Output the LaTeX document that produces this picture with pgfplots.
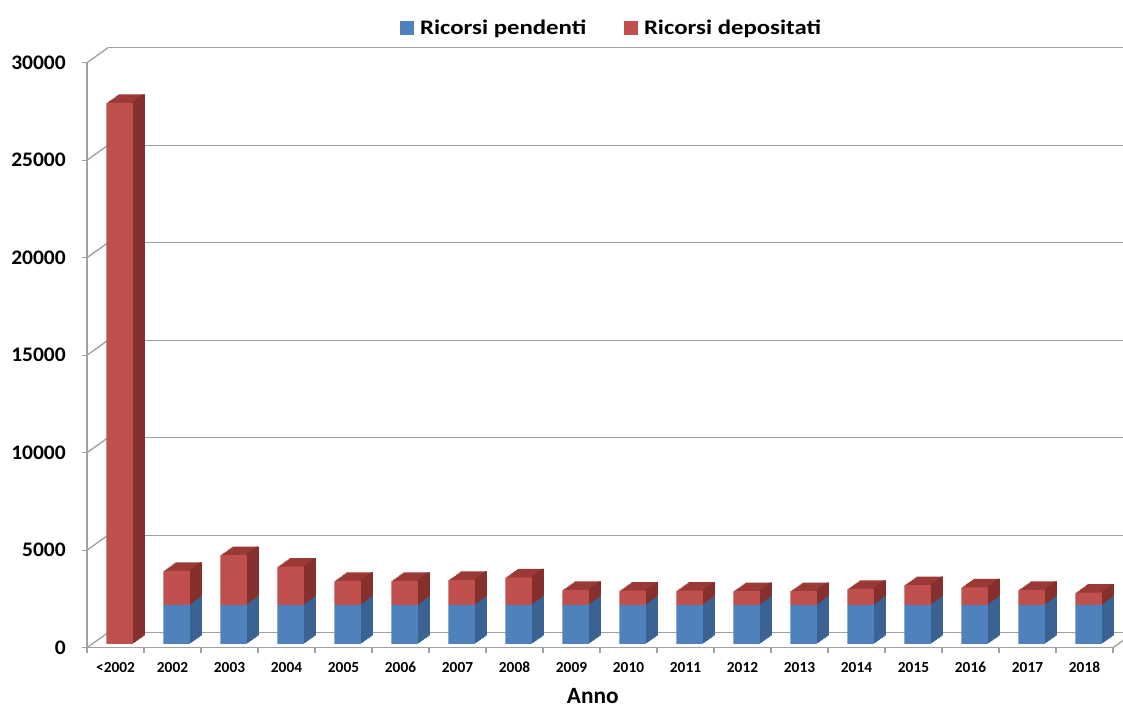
\documentclass[border=0pt]{standalone}
\usepackage{graphicx}
\usepackage{pgfplots}
\pgfplotsset{compat=1.18}
\usepackage{pgfplotstable}
\usepackage{fontspec}
\setmainfont{Carlito}

\definecolor{frontblue}{HTML}{4F81BD}
\definecolor{frontred}{HTML}{C0504D}
\definecolor{topblue}{HTML}{3E6899}
\definecolor{topred}{HTML}{9A3936}
\definecolor{sideblue}{HTML}{3A6293}
\definecolor{sidered}{HTML}{85302D}
\definecolor{gridgray}{HTML}{A0A0A0}

% pendenti = blue part, depositati = red part stacked on top
\pgfplotstableread{
x  pend  dep
0  0     27750
1  2000  1750
2  2000  2560
3  2000  1960
4  2000  1240
5  2000  1240
6  2000  1280
7  2000  1410
8  2000  770
9  2000  730
10 2000  730
11 2000  710
12 2000  710
13 2000  820
14 2000  1020
15 2000  900
16 2000  770
17 2000  630
}\data

\pgfplotsset{
  box/.style={scale only axis, width=769.5pt, height=438.75pt,
    xmin=-0.5, xmax=17.5, ymin=0, ymax=30000},
  layer/.style={box, hide axis, ybar stacked},
}

% one slice of the 3d bars: xshift, yshift, bar width, bar shift, blue, red
\newcommand{\barlayer}[6]{%
  \begin{axis}[layer, xshift=#1, yshift=#2]
    \addplot[fill=#5, draw=none, bar width=#3, bar shift=#4] table[x=x, y=pend] {\data};
    \addplot[fill=#6, draw=none, bar width=#3, bar shift=#4] table[x=x, y=dep] {\data};
  \end{axis}}

\begin{document}
\begin{tikzpicture}
\path[use as bounding box] (-65.25pt,-45.975pt) rectangle (777pt,485.775pt);

% back wall with gridlines
\begin{axis}[box, xshift=15.75pt, yshift=11.25pt,
  axis line style={draw=none}, xtick=\empty,
  ytick={0,5000,...,30000}, yticklabels={}, scaled y ticks=false,
  major tick length=0pt,
  ymajorgrids, grid style={draw=gridgray, line width=1pt}]
\end{axis}

% front frame, ticks and labels
\begin{axis}[box, clip=false,
  axis x line*=bottom, axis y line*=left,
  axis line style={-, draw=gridgray, line width=1pt},
  tick align=outside, major tick length=4pt,
  tick style={draw=gridgray, line width=1pt},
  ytick={0,5000,...,30000}, scaled y ticks=false,
  /pgf/number format/1000 sep={},
  /pgf/number format/assume math mode=true,
  yticklabel={\scalebox{1.04}[1]{\pgfmathprintnumber{\tick}}},
  yticklabel style={font=\fontsize{15.5}{18}\selectfont\bfseries,
    anchor=east, inner sep=0pt, xshift=-11.75pt},
  xtick={-0.5,0.5,...,17.5}, xticklabels={},
  extra x ticks={0,...,17},
  extra x tick labels={{<2002},2002,2003,2004,2005,2006,2007,2008,2009,2010,2011,2012,2013,2014,2015,2016,2017,2018},
  extra x tick style={major tick length=0pt,
    xticklabel style={font=\fontsize{11.5}{13}\selectfont\bfseries,
      anchor=base, inner sep=0pt, yshift=-18.75pt}},
  xlabel={Anno},
  x label style={font=\fontsize{17.5}{20}\selectfont\bfseries,
    at={(axis description cs:0.493,0)}, anchor=base, yshift=-41.5pt}]
% side wall lines at each gridline level
\pgfplotsinvokeforeach{0,5000,10000,15000,20000,25000,30000}{
  \draw[gridgray, line width=1pt] (axis cs:-0.5,#1) -- ++(15.75pt,11.25pt);
}
\draw[gridgray, line width=1pt] (axis cs:17.5,0) -- ++(15.75pt,11.25pt);
\end{axis}

% top faces (back to front)
\barlayer{12pt}{9.18pt}{19.875pt}{0pt}{topblue}{topred}
\barlayer{10.875pt}{8.38pt}{19.875pt}{0pt}{topblue}{topred}
\barlayer{9.75pt}{7.58pt}{19.875pt}{0pt}{topblue}{topred}
\barlayer{8.625pt}{6.79pt}{19.875pt}{0pt}{topblue}{topred}
\barlayer{7.5pt}{5.99pt}{19.875pt}{0pt}{topblue}{topred}
\barlayer{6.375pt}{5.19pt}{19.875pt}{0pt}{topblue}{topred}
\barlayer{5.25pt}{4.39pt}{19.875pt}{0pt}{topblue}{topred}
\barlayer{4.125pt}{3.6pt}{19.875pt}{0pt}{topblue}{topred}
% side faces
\barlayer{12pt}{9.18pt}{1.6pt}{9.14pt}{sideblue}{sidered}
\barlayer{10.875pt}{8.38pt}{1.6pt}{9.14pt}{sideblue}{sidered}
\barlayer{9.75pt}{7.58pt}{1.6pt}{9.14pt}{sideblue}{sidered}
\barlayer{8.625pt}{6.79pt}{1.6pt}{9.14pt}{sideblue}{sidered}
\barlayer{7.5pt}{5.99pt}{1.6pt}{9.14pt}{sideblue}{sidered}
\barlayer{6.375pt}{5.19pt}{1.6pt}{9.14pt}{sideblue}{sidered}
\barlayer{5.25pt}{4.39pt}{1.6pt}{9.14pt}{sideblue}{sidered}
\barlayer{4.125pt}{3.6pt}{1.6pt}{9.14pt}{sideblue}{sidered}

% front faces and legend
\begin{axis}[layer, xshift=3pt, yshift=2.8pt,
  legend style={draw=none, fill=none, at={(0.5075,1.053)}, anchor=center,
    legend columns=2, font=\fontsize{15.5}{18}\selectfont\bfseries,
    /tikz/every even column/.append style={column sep=26pt}},
  legend image code/.code={\fill[#1] (0pt,-5.25pt) rectangle (10.5pt,5.25pt);
    \path (10.5pt,0pt) -- (13.3pt,0pt);}]
\addplot[fill=frontblue, draw=none, bar width=19.875pt, bar shift=0pt] table[x=x, y=pend] {\data};
\addlegendentry{\scalebox{1.2}[1]{Ricorsi pendenti}}
\addplot[fill=frontred, draw=none, bar width=19.875pt, bar shift=0pt] table[x=x, y=dep] {\data};
\addlegendentry{\scalebox{1.2}[1]{Ricorsi depositati}}
\end{axis}
\end{tikzpicture}
\end{document}
